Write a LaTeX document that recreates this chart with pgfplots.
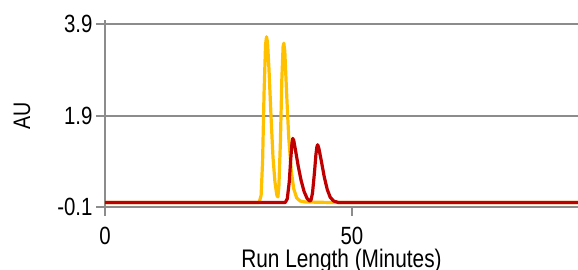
\documentclass[border=0pt]{standalone}
\usepackage{pgfplots}
\pgfplotsset{compat=1.18}
\usepackage{fontspec}
\setmainfont{Liberation Sans}[FakeStretch=0.82]
\definecolor{gridgray}{RGB}{140,140,140}
\definecolor{goldline}{RGB}{255,192,0}
\definecolor{redline}{RGB}{192,0,0}
\begin{document}
\begin{tikzpicture}[x=1bp,y=1bp]
\begin{axis}[
  scale only axis,
  width=473bp, height=183bp,
  xmin=0, xmax=95.75,
  ymin=-0.1, ymax=3.9,
  axis lines*=left,
  axis line style={gridgray, line width=2bp},
  y axis line style={shorten >=-4bp},
  tick style={gridgray, line width=2bp},
  tick align=outside,
  major tick length=9bp,
  xtick={0,50}, xticklabels={0,50},
  ytick={-0.1,1.9,3.9}, yticklabels={-0.1,1.9,3.9},
  ymajorgrids,
  grid style={gridgray, line width=2bp},
  ticklabel style={font=\fontsize{25}{27}\selectfont},
  yticklabel style={anchor=east, xshift=0bp},
  xticklabel style={anchor=base, yshift=-28bp},
  xlabel={Run Length (Minutes)},
  ylabel={AU},
  xlabel style={font=\fontsize{25.5}{28}\selectfont, at={(axis description cs:0.5,0)}, anchor=base, yshift=-60bp},
  ylabel style={font=\fontsize{24}{26}\selectfont, at={(axis description cs:0,0.5)}, anchor=center, yshift=83bp},
  clip=false,
  every axis plot/.append style={line width=3.2bp, line join=round, no markers},
]
\addplot[goldline] coordinates {
(0,0) (10,0) (20,0) (31.2,0) (31.6,0.15) (31.9,0.9) (32.2,2.4) (32.5,3.45) (32.7,3.62) (32.9,3.5)
(33.2,2.9) (33.6,1.9) (34.0,1.0) (34.4,0.45) (34.8,0.15) (35.0,0.12) (35.2,0.35) (35.5,1.3)
(35.8,2.7) (36.05,3.4) (36.2,3.48) (36.4,3.3) (36.8,2.3) (37.2,1.4) (37.7,0.7) (38.2,0.3)
(38.8,0.1) (39.5,0.03) (40.5,0.01) (45,0) (60,0) (95.75,0)
};
\addplot[redline] coordinates {
(0,0) (10,0) (20,0) (30,0) (36.5,0) (36.9,0.08) (37.3,0.45) (37.6,0.95) (37.85,1.3) (38.0,1.40)
(38.2,1.36) (38.6,1.12) (39.1,0.8) (39.7,0.48) (40.3,0.24) (40.9,0.09) (41.4,0.03) (41.7,0.05)
(42.0,0.2) (42.4,0.65) (42.7,1.05) (42.9,1.22) (43.05,1.26) (43.3,1.18) (43.8,0.9) (44.4,0.55)
(45.0,0.28) (45.6,0.11) (46.3,0.03) (47.2,0) (60,0) (95.75,0)
};
\coordinate (ll) at (rel axis cs:0,0);
\end{axis}
\pgfresetboundingbox
\path ([xshift=-105bp,yshift=-63bp]ll) rectangle ([xshift=473bp,yshift=207bp]ll);
\end{tikzpicture}
\end{document}
